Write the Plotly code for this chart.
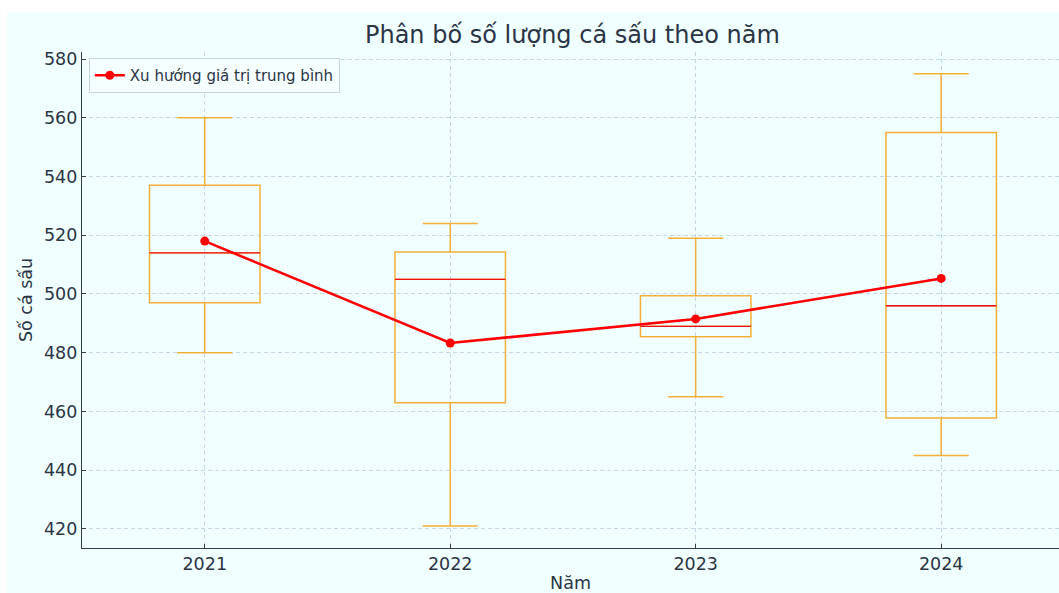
import plotly.graph_objects as go

years = ["2021", "2022", "2023", "2024"]
lower_whisker = [480, 421, 465, 445]
q1 = [497, 463, 485.4, 457.8]
median = [514, 505, 489, 496]
q3 = [537, 514.3, 499.4, 555]
upper_whisker = [560, 524, 519, 575]
means = [518, 483.3, 491.5, 505.3]

xpos = list(range(len(years)))
box_w = 0.45

fig = go.Figure()

fig.add_trace(go.Box(
    x=xpos, q1=q1, median=median, q3=q3,
    lowerfence=lower_whisker, upperfence=upper_whisker,
    width=box_w, whiskerwidth=0.5,
    line=dict(color="rgba(245,166,35,0.9)", width=1.5),
    fillcolor="rgba(0,0,0,0)", boxpoints=False, showlegend=False,
    hoverinfo="skip",
))

# median lines in red
for xi, m in zip(xpos, median):
    fig.add_trace(go.Scatter(
        x=[xi - box_w / 2, xi + box_w / 2], y=[m, m], mode="lines",
        line=dict(color="#e8101a", width=1.3), showlegend=False, hoverinfo="skip",
    ))

fig.add_trace(go.Scatter(
    x=xpos, y=means, mode="lines+markers", name="Xu hướng giá trị trung bình",
    line=dict(color="#ff0000", width=2.6), marker=dict(color="#ff0000", size=9),
))

# azure figure background with white strips at top/left
fig.add_shape(type="rect", xref="paper", yref="paper", x0=-0.0768, x1=1.01,
              y0=-0.2, y1=1.0806, fillcolor="#F0FFFF", line=dict(width=0), layer="below")

fig.update_layout(
    width=1059, height=593,
    margin=dict(l=82, r=0, t=52, b=45),
    paper_bgcolor="white", plot_bgcolor="#F0FFFF",
    font=dict(family="DejaVu Sans", color="#2b3545"),
    title=dict(text="Phân bố số lượng cá sấu theo năm", x=0.5405, xanchor="center",
               y=0.941, yanchor="middle", font=dict(size=24, color="#2b3545")),
    legend=dict(x=0.007, y=0.988, xanchor="left", yanchor="top",
                bgcolor="rgba(245,255,255,0.9)", bordercolor="#c8d4e6", borderwidth=1,
                font=dict(size=15, color="#2b3545"), tracegroupgap=0),
    xaxis=dict(
        range=[-0.5, 3.48], tickvals=xpos, ticktext=years, showgrid=True,
        gridcolor="#c6d6e8", griddash="4px,3px", gridwidth=1,
        showline=True, linecolor="#333d4a", linewidth=1.3,
        ticks="inside", ticklen=4, tickcolor="#333d4a",
        tickfont=dict(size=17.5), zeroline=False,
        title=dict(text="Năm", font=dict(size=17.5), standoff=4),
    ),
    yaxis=dict(
        range=[413.5, 582.4], tickvals=[420, 440, 460, 480, 500, 520, 540, 560, 580],
        showgrid=True, gridcolor="#c6d6e8", griddash="4px,3px", gridwidth=1,
        showline=True, linecolor="#333d4a", linewidth=1.3,
        ticks="inside", ticklen=4, tickcolor="#333d4a",
        tickfont=dict(size=17.5), zeroline=False,
        title=dict(text="Số cá sấu", font=dict(size=17.5), standoff=6),
    ),
)

fig.write_html("out.html", config={"displayModeBar": False},
               post_script="document.body.style.margin='0';document.body.style.overflow='hidden';")
